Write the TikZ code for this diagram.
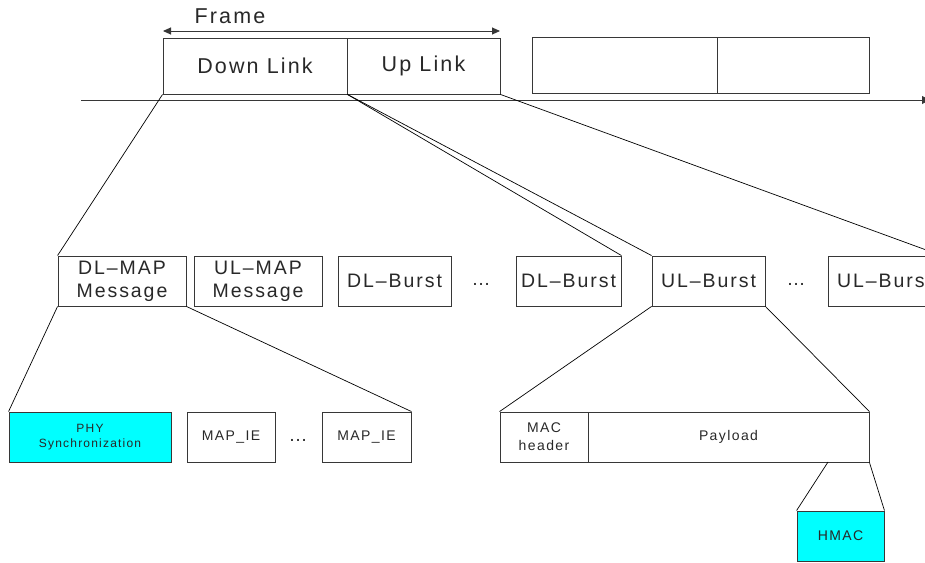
\documentclass[tikz,border=0pt]{standalone}
\usepackage{fontspec}
\setmainfont{Liberation Sans}[LetterSpace=10]
\usepackage{tikz}
\usetikzlibrary{arrows.meta,positioning}
\usepackage{xcolor}
\definecolor{hlcyan}{RGB}{0,255,255}
\definecolor{boxgrey}{RGB}{55,55,55}
\definecolor{txtgrey}{RGB}{40,40,40}

\begin{document}
\begin{tikzpicture}[x=1pt, y=-1pt,
    cell/.style={rectangle, draw=boxgrey, line width=0.9pt, inner sep=0pt,
                 align=center, text=txtgrey},
    toprow/.style={cell, minimum height=56pt, font=\fontsize{21.5}{24}\selectfont},
    midrow/.style={cell, minimum height=50pt, font=\fontsize{19.5}{23}\selectfont},
    lowrow/.style={cell, minimum height=50pt, font=\fontsize{14}{18}\selectfont},
    hl/.style={fill=hlcyan},
    dotsep/.style={text=txtgrey, font=\fontsize{19}{20}\selectfont, inner sep=0pt},
    link/.style={line width=0.7pt, black}
]
\useasboundingbox (0,0) rectangle (925,562);
\clip (0,0) rectangle (925,562);

% frame on the time line
\node[toprow, minimum width=184pt] (dl) at (255,66)   {Down Link};
\node[toprow, minimum width=153pt] (ul) at (423.5,66) {Up Link};
\node[toprow, minimum width=185pt] (nx1) at (624.5,65) {};
\node[toprow, minimum width=152pt] (nx2) at (793,65)   {};

\coordinate (fa) at (163,31);
\coordinate (fb) at (500,31);
\draw[{Triangle[length=8pt,width=7pt]}-{Triangle[length=8pt,width=7pt]}, line width=0.9pt, boxgrey] (fa) -- (fb);
\node[text=txtgrey, font=\fontsize{21.5}{24}\selectfont] (frame) at (230,16) {Frame};

\coordinate (t0) at (81,100);
\coordinate (t1) at (930,100);
\draw[-{Triangle[length=8pt,width=8pt]}, line width=0.9pt, boxgrey] (t0) -- (t1);

% bursts
\node[midrow, minimum width=128pt] (dlmap) at (122,281)   {DL–MAP\\Message};
\node[midrow, minimum width=128pt] (ulmap) at (258,281)   {UL–MAP\\Message};
\node[midrow, minimum width=113pt] (dlb1)  at (394.5,281) {DL–Burst};
\node[dotsep] (dots1) at (481,284) {\dots};
\node[midrow, minimum width=105pt] (dlb2)  at (568.5,281) {DL–Burst};
\node[midrow, minimum width=113pt] (ulb1)  at (708.5,281) {UL–Burst};
\node[dotsep] (dots2) at (796,284) {\dots};
\node[midrow, minimum width=113pt] (ulb2)  at (884.5,281) {UL–Burst};

% DL-MAP content
\node[lowrow, hl, minimum width=162pt, font=\fontsize{12}{15}\selectfont] (phy) at (90,437) {PHY\\Synchronization};
\node[lowrow, minimum width=88pt] (ie1) at (231,437)   {MAP\_IE};
\node[dotsep] (dots3) at (298,440) {\dots};
\node[lowrow, minimum width=89pt] (ie2) at (366.5,437) {MAP\_IE};

% UL-Burst content
\node[lowrow, minimum width=88pt]  (mac) at (544,437)   {MAC\\header};
\node[lowrow, minimum width=281pt] (pay) at (728.5,437) {Payload};
\node[lowrow, hl, minimum width=87pt] (hmac) at (840.5,536) {HMAC};
\coordinate (pcut) at (828,462);

\draw[link] (dl.south west) -- (dlmap.north west);
\draw[link] (dl.south east) -- (dlb2.north east);
\draw[link] (dl.south east) -- (ulb1.north west);
\draw[link] (ul.south east) -- (ulb2.north east);
\draw[link] (dlmap.south west) -- (phy.north west);
\draw[link] (dlmap.south east) -- (ie2.north east);
\draw[link] (ulb1.south west) -- (mac.north west);
\draw[link] (ulb1.south east) -- (pay.north east);
\draw[link] (pcut) -- (hmac.north west);
\draw[link] (pay.south east) -- (hmac.north east);
\end{tikzpicture}
\end{document}
